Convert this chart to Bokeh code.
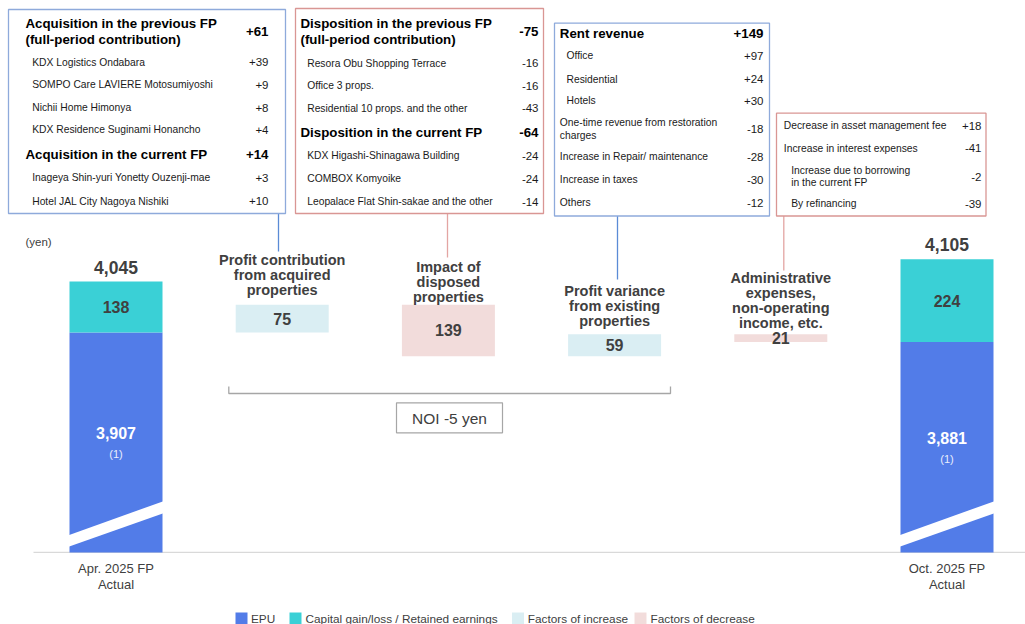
from bokeh.plotting import figure
from bokeh.models import Range1d
from bokeh.core.properties import value
from bokeh.embed import file_html
from bokeh.resources import INLINE

# ---------------- data ----------------
period_labels = ["Apr. 2025 FP", "Oct. 2025 FP"]
period_sub = ["Actual", "Actual"]
epu = [3907, 3881]
capital = [138, 224]
totals = [4045, 4105]
factor_labels = [
    ["Profit contribution", "from acquired", "properties"],
    ["Impact of", "disposed", "properties"],
    ["Profit variance", "from existing", "properties"],
    ["Administrative", "expenses,", "non-operating", "income, etc."],
]
factor_values = [75, -139, 59, -21]
axis_base = 3312

box1_rows = [("Acquisition in the previous FP\n(full-period contribution)", "+61", "h"),
             ("KDX Logistics Ondabara", "+39", "s"),
             ("SOMPO Care LAVIERE Motosumiyoshi", "+9", "s"),
             ("Nichii Home Himonya", "+8", "s"),
             ("KDX Residence Suginami Honancho", "+4", "s"),
             ("Acquisition in the current FP", "+14", "h"),
             ("Inageya Shin-yuri Yonetty Ouzenji-mae", "+3", "s"),
             ("Hotel JAL City Nagoya Nishiki", "+10", "s")]
box2_rows = [("Disposition in the previous FP\n(full-period contribution)", "-75", "h"),
             ("Resora Obu Shopping Terrace", "-16", "s"),
             ("Office 3 props.", "-16", "s"),
             ("Residential 10 props. and the other", "-43", "s"),
             ("Disposition in the current FP", "-64", "h"),
             ("KDX Higashi-Shinagawa Building", "-24", "s"),
             ("COMBOX Komyoike", "-24", "s"),
             ("Leopalace Flat Shin-sakae and the other", "-14", "s")]
box3_rows = [("Rent revenue", "+149", "h"),
             ("Office", "+97", "s"),
             ("Residential", "+24", "s"),
             ("Hotels", "+30", "s"),
             ("One-time revenue from restoration\ncharges", "-18", "t"),
             ("Increase in Repair/ maintenance", "-28", "t"),
             ("Increase in taxes", "-30", "t"),
             ("Others", "-12", "t")]
box4_rows = [("Decrease in asset management fee", "+18", "t"),
             ("Increase in interest expenses", "-41", "t"),
             ("Increase due to borrowing\n in the current FP", "-2", "s"),
             ("By refinancing", "-39", "s")]

legend_items = ["EPU", "Capital gain/loss / Retained earnings", "Factors of increase", "Factors of decrease"]

# ---------------- styling / layout ----------------
C_EPU = "#527CE8"
C_CAP = "#3AD0D6"
C_INC = "#DAEEF3"
C_DEC = "#F2DCDB"
C_TXT = "#404040"
C_BLUE_BORDER = "#8EAADB"
C_PINK_BORDER = "#D99694"
FONT = value("Liberation Sans")

W, H = 1025, 624
XPX0, XSTEP = 115.5, 166.2      # pixel centre of first category, spacing
K = 2.7056                      # yen per pixel
Y_TOP = totals[0] + 281 * K     # value at top edge of frame


def X(px):
    return (px - XPX0) / XSTEP


def Y(py):
    return Y_TOP - py * K


def PY(v):
    return (Y_TOP - v) / K


p = figure(width=W, height=H, output_backend="svg", toolbar_location=None,
           x_range=Range1d(X(0), X(W)), y_range=Range1d(Y(H), Y(0)),
           x_axis_location=None, y_axis_location=None, min_border=0)
p.outline_line_color = None
p.grid.visible = False
p.background_fill_color = "white"
p.border_fill_color = "white"


def txt(x, y, t, size, bold=False, align="left", color=C_TXT):
    p.text(x=[x], y=[y], text=[t], text_font=FONT, text_font_size=value(size),
           text_font_style="bold" if bold else "normal", text_align=align,
           text_baseline="middle", text_color=color)


BAR_W = 93 / XSTEP

# baseline
p.line(x=[X(33), X(W)], y=[axis_base, axis_base], line_color="#D9D9D9", line_width=1.2)

# ---------------- start / end bars ----------------
for i, xi in enumerate([0, 5]):
    p.vbar(x=[xi], bottom=[axis_base], top=[epu[i]], width=BAR_W, fill_color=C_EPU, line_color=None)
    p.vbar(x=[xi], bottom=[epu[i]], top=[totals[i]], width=BAR_W, fill_color=C_CAP, line_color=None)
    # break stripe
    l, r = xi - BAR_W / 2, xi + BAR_W / 2
    p.patch(x=[l - 0.01, r + 0.01, r + 0.01, l - 0.01],
            y=[axis_base + 17 * K, axis_base + 51.5 * K, axis_base + 39.5 * K, axis_base + 5.3 * K],
            fill_color="white", line_color=None)
    txt(xi, totals[i] + 14.5 * K, f"{totals[i]:,}", "17.5px", bold=True, align="center")
    txt(xi, (epu[i] + totals[i]) / 2, f"{capital[i]:,}", "16px", bold=True, align="center")
    mid_px = (PY(epu[i]) + PY(axis_base)) / 2 - 9
    txt(xi, Y(mid_px), f"{epu[i]:,}", "16px", bold=True, align="center", color="white")
    txt(xi, Y(mid_px + 21), "(1)", "11px", align="center", color="#E8EEFC")
    txt(xi, Y(568), period_labels[i], "13px", align="center")
    txt(xi, Y(584), period_sub[i], "13px", align="center")

# ---------------- factor boxes ----------------
label_gap = [15, 8, 13.5, 11.5]
running = epu[0]
for j, d in enumerate(factor_values):
    xi = j + 1
    lo, hi = min(running, running + d), max(running, running + d)
    p.vbar(x=[xi], bottom=[lo], top=[hi], width=BAR_W,
           fill_color=C_INC if d > 0 else C_DEC, line_color=None)
    txt(xi, (lo + hi) / 2, f"{abs(d)}", "16px", bold=True, align="center")
    lines = factor_labels[j]
    last_px = PY(hi) - label_gap[j]
    for k, ln in enumerate(lines):
        py = last_px - (len(lines) - 1 - k) * 14.8
        txt(xi, Y(py), ln, "14.5px", bold=True, align="center")
    running += d

# ---------------- detail boxes ----------------
boxes = [
    dict(rows=box1_rows, l=8, r=285, t=9, b=213, border=C_BLUE_BORDER, hx=25, sx=31.7, tx=25, vx=268,
         ys=[31, 61.7, 84.3, 107.3, 129.3, 154, 177.3, 200.7], conn=(278, 251)),
    dict(rows=box2_rows, l=295, r=543, t=8, b=213, border=C_PINK_BORDER, hx=300, sx=306.7, tx=300, vx=538,
         ys=[31, 62.7, 85.3, 107.7, 131.7, 155.3, 178.3, 201], conn=(447, 257)),
    dict(rows=box3_rows, l=554, r=769, t=22.7, b=215.5, border=C_BLUE_BORDER, hx=559.3, sx=566, tx=559.3, vx=763,
         ys=[32.7, 55.3, 78.7, 100, 128.5, 156, 179.3, 202.3], conn=(617, 279)),
    dict(rows=box4_rows, l=776, r=985.5, t=112.7, b=215.5, border=C_PINK_BORDER, hx=783.3, sx=790.7, tx=783.3,
         vx=981, ys=[125, 147.7, 176, 203.3], conn=(783.3, 270)),
]
for bx in boxes:
    cx, cend = bx["conn"]
    p.line(x=[X(cx), X(cx)], y=[Y(bx["b"]), Y(cend)],
           line_color="#5B8BD6" if bx["border"] == C_BLUE_BORDER else "#E3A5A3", line_width=1.3)
    p.quad(left=[X(bx["l"])], right=[X(bx["r"])], top=[Y(bx["t"])], bottom=[Y(bx["b"])],
           fill_color="white", line_color=bx["border"], line_width=1.3)
    for (label, val, kind), yc in zip(bx["rows"], bx["ys"]):
        parts = label.split("\n")
        if kind == "h":
            size, bold, x0, col = "13.3px", True, bx["hx"], "#000000"
            step = 15.5
        else:
            size, bold, x0, col = "10.3px", False, (bx["sx"] if kind == "s" else bx["tx"]), "#1A1A1A"
            step = 12.5
        n = len(parts)
        for k, ln in enumerate(parts):
            txt(X(x0), Y(yc + (k - (n - 1) / 2) * step), ln, size, bold=bold, color=col)
        txt(X(bx["vx"]), Y(yc), val, "13.3px" if kind == "h" else "11.5px", bold=bold,
            align="right", color=col)

# ---------------- misc annotations ----------------
txt(X(25), Y(241), "(yen)", "11.5px")

# NOI bracket
p.line(x=[X(228.3), X(228.3), X(670), X(670)], y=[Y(386), Y(393), Y(393), Y(386)],
       line_color="#A6A6A6", line_width=1.3)
p.quad(left=[X(396)], right=[X(502)], top=[Y(402.3)], bottom=[Y(432.3)],
       fill_color="white", line_color="#A6A6A6", line_width=1.2)
txt(X(449), Y(417.5), "NOI -5 yen", "15.5px", align="center")

# legend
leg_colors = [C_EPU, C_CAP, C_INC, C_DEC]
leg_sq = [235, 289, 511.5, 634]
leg_tx = [250.5, 305, 527.3, 650]
for c, sq, tx, lab in zip(leg_colors, leg_sq, leg_tx, legend_items):
    p.quad(left=[X(sq)], right=[X(sq + 12)], top=[Y(612)], bottom=[Y(624)], fill_color=c, line_color=None)
    txt(X(tx), Y(618), lab, "11.8px")

open("out.html", "w").write(file_html(p, INLINE))
